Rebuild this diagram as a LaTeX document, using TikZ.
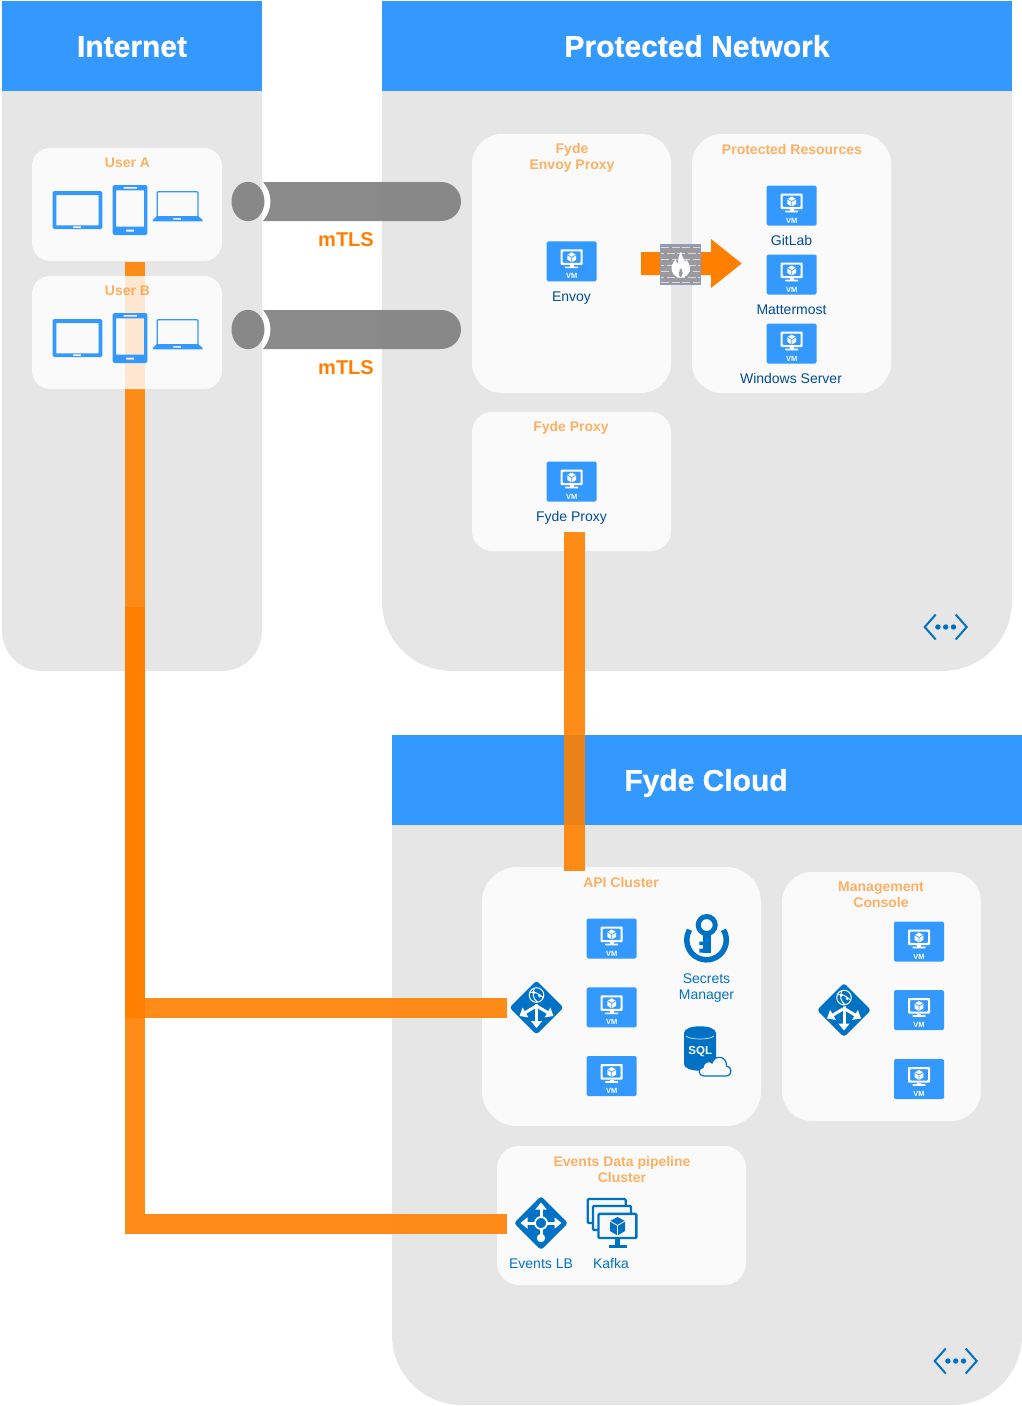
\documentclass[tikz,border=0pt]{standalone}
\usepackage{fontspec}
\setmainfont{Liberation Sans}
\newfontfamily\heavyfont[UprightFont={* Bold},UprightFeatures={FakeBold=0.6}]{Liberation Sans}
\usetikzlibrary{arrows.meta}
\definecolor{hdrblue}{HTML}{3399FF}
\definecolor{panelgray}{HTML}{E6E6E6}
\definecolor{azure}{HTML}{0072C6}
\definecolor{flow}{HTML}{FF8000}
\definecolor{navy}{HTML}{004C99}
\definecolor{boxbg}{HTML}{F9F9F9}
\definecolor{brick}{HTML}{9A9A9E}
\definecolor{mortar}{HTML}{D6D8E2}
\definecolor{wallrim}{HTML}{8A9CC8}
\newcommand{\fpx}[1]{\fontsize{#1}{#1}\selectfont}
\tikzset{
  panelbody/.style={fill=panelgray,draw=none},
  header/.style={fill=hdrblue,draw=none,text=white,inner sep=0pt,font=\fpx{30}\heavyfont,text height=21.6pt,text depth=0pt},
  softbox/.style={fill=white,fill opacity=.8,draw=none,inner sep=0pt,text opacity=1},
  boxtitle/.style={text=flow,text opacity=.6,font=\fpx{14}\bfseries,align=center,inner sep=0pt,text height=10pt,text depth=0pt},
  vmlabel/.style={text=navy,font=\fpx{14},align=center,inner sep=0pt,text height=10pt,text depth=0pt},
  azlabel/.style={text=azure,font=\fpx{14},align=center,inner sep=0pt,text height=10pt,text depth=0pt},
  flowline/.style={draw=flow,draw opacity=.9,line width=20pt,line join=miter,line cap=butt},
  tlslabel/.style={text=flow,font=\fpx{20}\bfseries,inner sep=0pt,text height=14.4pt,text depth=0pt},
  pipegray/.style={fill=black!50,fill opacity=.92,draw=none},
  lbarrow/.style={white,line width=3pt,-{Triangle[length=7pt,width=11pt]}},
  pics/vm/.style={code={
    \fill[hdrblue,rounded corners=1.5pt] (-25,-20) rectangle (25,20);
    \fill[white,even odd rule,rounded corners=.8pt] (-11,-12) rectangle (11,3.5) (-9,-10) rectangle (9,1.5);
    \fill[white] (-2,3.5) rectangle (2,5.5);
    \fill[white,rounded corners=.5pt] (-6.5,5.2) rectangle (6.5,6.8);
    \fill[white] (0,-9) -- (4.3,-6.5) -- (4.3,-1.5) -- (0,1) -- (-4.3,-1.5) -- (-4.3,-6.5) -- cycle;
    \draw[hdrblue,line width=.7pt] (-4.3,-6.5) -- (0,-4) -- (4.3,-6.5) (0,-4) -- (0,1);
    \node[text=white,font=\fpx{7.5}\bfseries,inner sep=0pt] at (0,15) {VM};
  }},
  pics/devices/.style={code={
    \fill[hdrblue,even odd rule,rounded corners=1.5pt] (52.7,191) rectangle (102.3,229) [sharp corners] (56.3,195) rectangle (98.7,225.3) (73,226.3) rectangle (81,228);
    \fill[hdrblue,even odd rule,rounded corners=1.5pt] (112.7,185) rectangle (147.3,235) [sharp corners] (116,190.3) rectangle (144,226.5) (123.5,186.8) rectangle (137,188.6) (126,229.5) rectangle (134,231.5);
    \draw[hdrblue,line width=1.3pt,rounded corners=1pt] (157.2,216.5) -- (157.2,191.7) -- (198,191.7) -- (198,216.5);
    \fill[hdrblue,even odd rule] (152.7,220) -- (157,216) -- (198,216) -- (202.7,220) -- (202.7,220.5) -- (202,221.3) -- (153.4,221.3) -- (152.7,220.5) -- cycle (173,218) rectangle (181,219.6);
  }},
  pics/hublb/.style={code={
    \fill[azure,rounded corners=3pt] (-27,0) -- (0,-27) -- (27,0) -- (0,27) -- cycle;
    \draw[lbarrow] (0,-6) -- (0,20.5);
    \draw[lbarrow] (-1,-1) -- (-17,8.5);
    \draw[lbarrow] (1,-1) -- (17,8.5);
    \fill[azure] (0,-12.5) circle (9);
    \draw[white,line width=1pt,fill=azure] (0,-12.5) circle (7.3);
    \draw[white,line width=1pt] (-6.5,-15) .. controls (-2,-17) and (3,-13) .. (6.5,-10);
    \draw[white,line width=1pt] (-2,-19.5) .. controls (-5,-14) and (-3,-8) .. (1,-5.5);
    \fill[white] (-2.6,-14.8) circle (1.6) (3.2,-11.5) circle (1.6);
  }},
  pics/eventslb/.style={code={
    \fill[azure,rounded corners=3pt] (-27,0) -- (0,-27) -- (27,0) -- (0,27) -- cycle;
    \draw[lbarrow] (0,0) -- (0,-20.5);
    \draw[lbarrow] (0,0) -- (-20.5,0);
    \draw[lbarrow] (0,0) -- (20.5,0);
    \draw[white,line width=3pt] (0,0) -- (0,15);
    \fill[white] (0,15) circle (4.2);
    \draw[white,line width=1.8pt,fill=azure] (0,0) circle (6);
  }},
  pics/netmark/.style={code={
    \draw[azure,line width=2pt,line join=miter] (-10,-12.5) -- (-21,0) -- (-10,12.5) (10,-12.5) -- (21,0) -- (10,12.5);
    \fill[azure] (-7.8,0) circle (2.7) (0,0) circle (2.7) (7.8,0) circle (2.7);
  }},
  pics/kafkascreen/.style={code={
    \draw[azure,line width=2.2pt,fill=boxbg,rounded corners=1pt] (0,0) rectangle (38,24);
  }},
}
\begin{document}
\begin{tikzpicture}[x=1pt,y=-1pt]
\useasboundingbox (0,0) rectangle (1022,1406);
% panels
\path[panelbody] (2,91) -- (262,91) -- (262,631) .. controls (262,653) and (244,671) .. (222,671) -- (42,671) .. controls (20,671) and (2,653) .. (2,631) -- cycle;
\path[panelbody] (382,91) -- (1012,91) -- (1012,601) .. controls (1012,640) and (981,671) .. (942,671) -- (452,671) .. controls (413,671) and (382,640) .. (382,601) -- cycle;
\path[panelbody] (392,825) -- (1022,825) -- (1022,1335) .. controls (1022,1374) and (991,1405) .. (952,1405) -- (462,1405) .. controls (423,1405) and (392,1374) .. (392,1335) -- cycle;
\node[header,minimum width=260pt,minimum height=90pt] (hdrInternet) at (132,46) {Internet};
\node[header,minimum width=630pt,minimum height=90pt] (hdrProtected) at (697,46) {Protected Network};
\node[header,minimum width=630pt,minimum height=90pt] (hdrCloud) at (707,780) {};
% boxes under/over lines
\node[softbox,rounded corners=18pt,minimum width=190pt,minimum height=113pt] (userA) at (127,204.5) {};
\node[softbox,rounded corners=30pt,minimum width=199pt,minimum height=259pt] (envoyBox) at (571.5,263.5) {};
\node[softbox,rounded corners=30pt,minimum width=199pt,minimum height=259pt] (resBox) at (791.5,263.5) {};
\node[softbox,rounded corners=20pt,minimum width=199pt,minimum height=139pt] (proxyBox) at (571.5,481.5) {};
\node[softbox,rounded corners=35pt,minimum width=279pt,minimum height=259pt] (apiBox) at (621.5,996.5) {};
\node[softbox,rounded corners=30pt,minimum width=199pt,minimum height=249pt] (mgmtBox) at (881.5,996.5) {};
\node[softbox,rounded corners=22pt,minimum width=249pt,minimum height=139pt] (eventsBox) at (621.5,1215.5) {};
% connectors
\coordinate (aTop) at (134.5,262);
\coordinate (bTop) at (134.5,607);
\coordinate (apiIn) at (507,1008.3);
\coordinate (evIn) at (507,1224);
\coordinate (pxTop) at (574.5,532);
\coordinate (pxEnd) at (574.5,871);
\draw[flowline] (aTop) |- (apiIn);
\draw[flowline] (bTop) |- (evIn);
\draw[flowline,line width=21pt] (pxTop) -- (pxEnd);
\node[softbox,rounded corners=18pt,minimum width=190pt,minimum height=113pt] (userB) at (127,332.5) {};
\node[inner sep=0pt,text=white,font=\fpx{30}\heavyfont,text height=21.6pt,text depth=0pt] (hdrCloudText) at (706,780) {Fyde Cloud};
% box titles
\node[boxtitle] (tUserA) at (127.5,162) {User A};
\node[boxtitle] (tUserB) at (127.5,290) {User B};
\node[boxtitle] (tEnvoy) at (572,148) {Fyde};
\node[boxtitle] (tEnvoy2) at (572,164) {Envoy Proxy};
\node[boxtitle] (tRes) at (792,149) {Protected Resources};
\node[boxtitle] (tProxy) at (571,426) {Fyde Proxy};
\node[boxtitle] (tApi) at (621,882) {API Cluster};
\node[boxtitle] (tMgmt) at (881,886) {Management};
\node[boxtitle] (tMgmt2) at (881,902) {Console};
\node[boxtitle] (tEv) at (622,1161) {Events Data pipeline};
\node[boxtitle] (tEv2) at (622,1177) {Cluster};
% devices
\pic at (0,0) {devices};
\pic at (0,128) {devices};
% mTLS pipes
\foreach \dy/\nm in {0/A,128/B}{
  \begin{scope}[yshift=-\dy pt]
    \path[pipegray] (263,182) -- (441,182) .. controls (452,182) and (461,190.7) .. (461,201.5) .. controls (461,212.3) and (452,221) .. (441,221) -- (263,221) .. controls (273,210) and (273,193) .. (263,182) -- cycle;
    \fill[black!50,fill opacity=.92] (248,201.5) ellipse [x radius=16.5,y radius=19.7];
  \end{scope}
}
\node[tlslabel] (tlsA) at (346,239) {mTLS};
\node[tlslabel] (tlsB) at (346,367) {mTLS};
% firewall arrow
\fill[flow] (641,252) -- (711,252) -- (711,239) -- (741.7,263.5) -- (711,288) -- (711,275) -- (641,275) -- cycle;
\fill[brick] (660,244) rectangle (701,285);
\foreach \yy/\ph in {247.5/0,253.5/5,259.5/0,265.5/5,271.5/0,277.5/5,282.5/0}{
  \draw[mortar,line width=1.5pt,dash pattern=on 8pt off 2.5pt,dash phase=\ph pt] (661,\yy) -- (700,\yy);
}
\draw[wallrim,line width=1.3pt] (660.5,244.5) rectangle (700.5,284.5);
\fill[white] (680,277.5) .. controls (674,277.5) and (671.5,272) .. (671.5,268) .. controls (671.5,264) and (674.5,261) .. (675.5,259) .. controls (676,262) and (677,263.5) .. (678,264) .. controls (678,259) and (679,255) .. (681,251.5) .. controls (682,256) and (683.5,259) .. (685,262) .. controls (685.8,261) and (686,260.5) .. (686.5,259.5) .. controls (688,262) and (690,265) .. (690,269) .. controls (690,273) and (686.5,277.5) .. (681,277.5) .. controls (683,275) and (684,272) .. (680.7,268) .. controls (678,272) and (678,275) .. (680,277.5) -- cycle;
% VMs
\pic at (571.7,261.3) {vm};
\pic at (791.7,205.5) {vm};
\pic at (791.7,274.5) {vm};
\pic at (791.7,343.5) {vm};
\pic at (571.7,481.5) {vm};
\pic at (611.7,938.5) {vm};
\pic at (611.7,1007.3) {vm};
\pic at (611.7,1076) {vm};
\pic at (919,941.5) {vm};
\pic at (919,1010) {vm};
\pic at (919,1079) {vm};
% VM labels
\node[vmlabel] (lEnvoy) at (571.5,296) {Envoy};
\node[vmlabel] (lGit) at (791.5,240) {GitLab};
\node[vmlabel] (lMatter) at (791.5,309) {Mattermost};
\node[vmlabel] (lWin) at (791,378) {Windows Server};
\node[vmlabel] (lProxy) at (571.5,516) {Fyde Proxy};
% LBs
\pic at (536.5,1007.5) {hublb};
\pic at (844,1010) {hublb};
\pic at (541,1223) {eventslb};
\node[azlabel] (lEvLB) at (541,1263) {Events LB};
\node[azlabel] (lKafka) at (611,1263) {Kafka};
% key icon
\draw[azure,line width=5.5pt] ([shift={(-31:19.8)}]706.5,940) arc[start angle=-31,end angle=211,radius=19.8];
\draw[azure,line width=5pt] (706.7,925) circle (8.5);
\fill[azure] (703,934) rectangle (710.7,952.7);
\fill[azure] (699.3,941.7) rectangle (703.5,945) (699.3,948.5) rectangle (703.5,952.7);
\node[azlabel] (lSec) at (706.5,978) {Secrets};
\node[azlabel] (lSec2) at (706.5,994) {Manager};
% SQL icon
\fill[azure] (684,1033) .. controls (684,1024) and (716,1024) .. (716,1033) -- (716,1064) .. controls (716,1073) and (684,1073) .. (684,1064) -- cycle;
\draw[white!85!azure,line width=.7pt] (686,1036) .. controls (690,1040) and (710,1040) .. (714,1036);
\node[text=white,font=\fpx{11.5}\bfseries,inner sep=0pt,text height=8.3pt,text depth=0pt] (lSql) at (700.3,1050.5) {SQL};
\draw[azure,line width=1.2pt,fill=boxbg] (704,1076) .. controls (698,1076) and (697.5,1068) .. (703,1067.5) .. controls (703,1062) and (710,1060) .. (712,1063) .. controls (715,1054) and (727,1056) .. (726.5,1066) .. controls (732,1066) and (733,1076) .. (726,1076) -- cycle;
% Kafka icon
\pic at (587.7,1199) {kafkascreen};
\pic at (593,1206) {kafkascreen};
\draw[azure,line width=2.4pt,fill=boxbg,rounded corners=1pt] (598.5,1213.8) rectangle (636.3,1238);
\fill[azure] (615.2,1238) rectangle (620,1245);
\fill[azure] (608.5,1244.5) rectangle (626.5,1248);
\fill[azure] (617.5,1217) -- (625,1221) -- (625,1231) -- (617.5,1235.5) -- (610,1231) -- (610,1221) -- cycle;
\draw[boxbg,line width=.8pt] (610,1221) -- (617.5,1225.5) -- (625,1221) (617.5,1225.5) -- (617.5,1235.5);
% network marks
\pic at (945.7,627) {netmark};
\pic at (955.7,1361) {netmark};
\end{tikzpicture}
\end{document}
